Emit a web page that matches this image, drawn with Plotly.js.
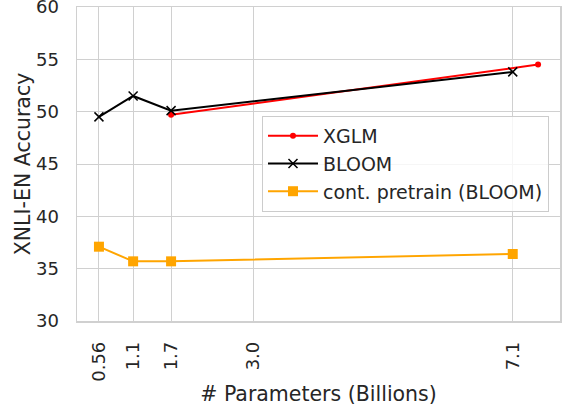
<!DOCTYPE html>
<html>
<head>
<meta charset="utf-8">
<script src="https://cdn.plot.ly/plotly-3.0.1.min.js"></script>
<style>html,body{margin:0;padding:0;background:#fff;}#chart{width:563px;height:408px;}</style>
</head>
<body>
<div id="chart"></div>
<script>
const tickVals = [0.56, 1.1, 1.7, 3.0, 7.1];
const tickText = ['0.56', '1.1', '1.7', '3.0', '7.1'];
const yTickVals = [30, 35, 40, 45, 50, 55, 60];

const xglmX = [1.7, 7.5];
const xglmY = [49.7, 54.5];

const bloomX = [0.56, 1.1, 1.7, 7.1];
const bloomY = [49.5, 51.5, 50.1, 53.8];

const contX = [0.56, 1.1, 1.7, 7.1];
const contY = [37.1, 35.7, 35.7, 36.4];

const traces = [
  {x: xglmX, y: xglmY, name: 'XGLM', mode: 'lines+markers',
   line: {color: '#ff0000', width: 2}, marker: {symbol: 'circle', size: 6, color: '#ff0000'}},
  {x: bloomX, y: bloomY, name: 'BLOOM', mode: 'lines+markers',
   line: {color: '#000000', width: 2}, marker: {symbol: 'x-thin', size: 9, color: '#000000', line: {color: '#000000', width: 1.5}}},
  {x: contX, y: contY, name: 'cont. pretrain (BLOOM)', mode: 'lines+markers',
   line: {color: '#ffa500', width: 2}, marker: {symbol: 'square', size: 10, color: '#ffa500'}}
];

const layout = {
  width: 563, height: 408,
  margin: {l: 77, r: 3, t: 7, b: 87},
  paper_bgcolor: '#ffffff', plot_bgcolor: '#ffffff',
  font: {family: 'DejaVu Sans', size: 18, color: '#262626'},
  showlegend: true,
  legend: {x: 0.383, y: 0.653, xanchor: 'left', yanchor: 'top', itemwidth: 50,
           bordercolor: '#cccccc', borderwidth: 1, bgcolor: 'rgba(255,255,255,0.8)',
           font: {size: 19, color: '#262626'}, tracegroupgap: 0},
  xaxis: {
    range: [0.213, 7.847], tickvals: tickVals, ticktext: tickText, tickangle: -90,
    showgrid: true, gridcolor: '#d0d0d0', gridwidth: 1,
    showline: true, linecolor: '#d0d0d0', linewidth: 1.5, mirror: true,
    zeroline: false, ticks: '', ticklabelstandoff: 12, ticklabeloverflow: 'allow',
    tickfont: {size: 18},
    title: {text: '# Parameters (Billions)', font: {size: 20.5, color: '#262626'}, standoff: 6}
  },
  yaxis: {
    range: [30, 60], tickvals: yTickVals,
    showgrid: true, gridcolor: '#d0d0d0', gridwidth: 1,
    showline: true, linecolor: '#d0d0d0', linewidth: 1.5, mirror: true,
    zeroline: false, ticks: '', ticklabelstandoff: 13, ticklabeloverflow: 'allow',
    tickfont: {size: 18},
    title: {text: 'XNLI-EN Accuracy', font: {size: 20.5, color: '#262626'}, standoff: 0}
  }
};

Plotly.newPlot('chart', traces, layout, {displayModeBar: false, staticPlot: true});
</script>
</body>
</html>
